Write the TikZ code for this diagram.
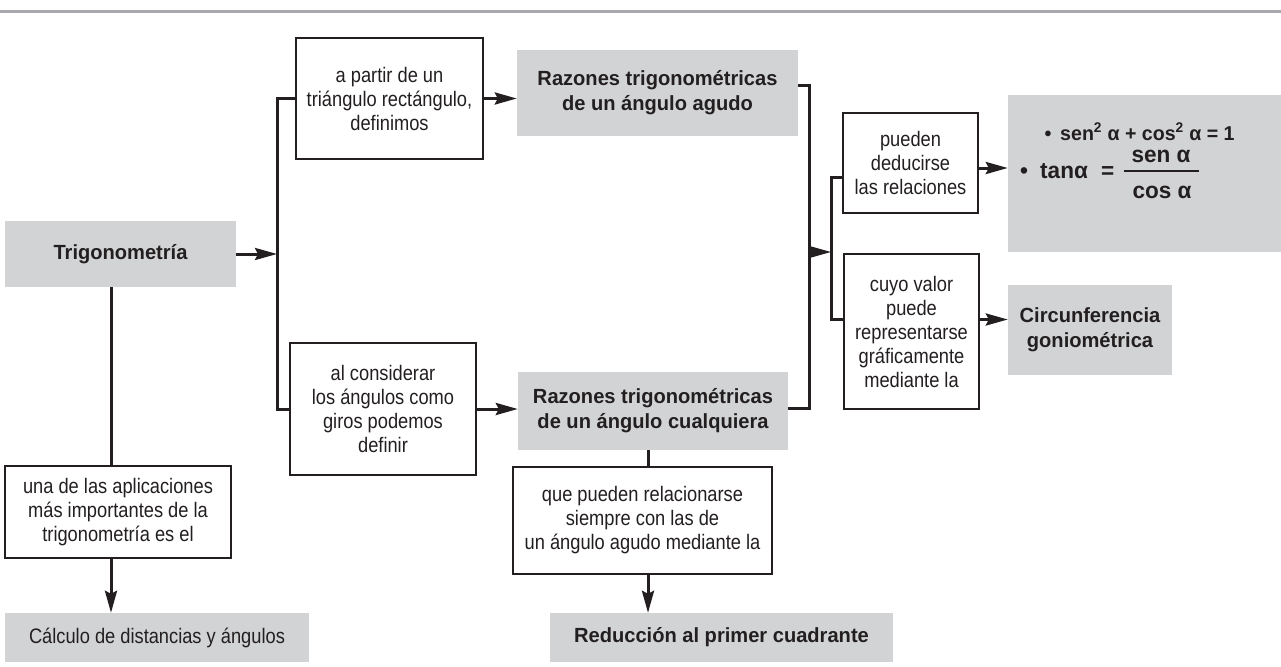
\documentclass[tikz,border=0pt]{standalone}
\usepackage{fontspec}
\usetikzlibrary{arrows.meta,calc}
\newfontfamily\rfont{Liberation Sans}[FakeStretch=0.87]
\newfontfamily\bfont{Liberation Sans}[FakeStretch=0.98]
\definecolor{ink}{HTML}{231F20}
\definecolor{gfill}{HTML}{D1D3D4}
\definecolor{rule}{HTML}{A7A9AC}
\tikzset{
  ln/.style={line width=3pt, draw=ink},
  arr/.style={ln, -{Stealth[length=22pt,width=12pt,inset=3pt]}},
  wbox/.style={draw=ink, line width=1.4pt, fill=white, align=center, text=ink,
    font=\rfont\fontsize{21}{24}\selectfont, inner sep=0pt},
  gbox/.style={fill=gfill, align=center, text=ink,
    font=\bfont\bfseries\fontsize{20.5}{25}\selectfont, inner sep=0pt},
  gboxr/.style={fill=gfill, align=center, text=ink,
    font=\rfont\fontsize{21}{24}\selectfont, inner sep=0pt},
  ftxt/.style={text=ink, inner sep=0pt, font=\bfont\bfseries\fontsize{20}{24}\selectfont},
  ftxtb/.style={text=ink, inner sep=0pt, font=\bfont\bfseries\fontsize{23}{27}\selectfont},
}
\begin{document}
\begin{tikzpicture}[x=1pt,y=-1pt]
\useasboundingbox (0,0) rectangle (1281,666);
% top rule
\draw[rule, line width=3pt] (0,12) -- (1281,12);

% nodes
\node[gbox, minimum width=231pt, minimum height=66pt] (trig) at (120.5,254) {Trigonometría};
\node[wbox, minimum width=187pt, minimum height=121pt] (b1) at (389.5,98.5)
  {a partir de un\\triángulo rectángulo,\\definimos};
\node[wbox, minimum width=186pt, minimum height=132pt] (b2) at (383,409)
  {al considerar\\los ángulos como\\giros podemos\\definir};
\node[gbox, minimum width=281pt, minimum height=86pt] (ra) at (657.5,93)
  {Razones trigonométricas\\de un ángulo agudo};
\node[gbox, minimum width=270pt, minimum height=78pt] (rc) at (653,411)
  {Razones trigonométricas\\de un ángulo cualquiera};
\node[wbox, minimum width=135pt, minimum height=100pt] (p) at (910.5,163)
  {pueden\\deducirse\\las relaciones};
\node[wbox, minimum width=135pt, minimum height=155pt] (c) at (911.5,331.5)
  {cuyo valor\\puede\\representarse\\gráficamente\\mediante la};
\node[fill=gfill, minimum width=273pt, minimum height=157pt, inner sep=0pt] (fm) at (1144.5,173.5) {};
\node[gbox, minimum width=164pt, minimum height=90pt] (circ) at (1090,330)
  {Circunferencia\\goniométrica};
\node[wbox, minimum width=226pt, minimum height=92pt] (b3) at (118,512)
  {una de las aplicaciones\\más importantes de la\\trigonometría es el};
\node[gboxr, minimum width=304pt, minimum height=49pt] (calc) at (157,637.5)
  {Cálculo de distancias y ángulos};
\node[wbox, minimum width=259pt, minimum height=107pt] (b4) at (642.5,520.5)
  {que pueden relacionarse\\siempre con las de\\un ángulo agudo mediante la};
\node[gbox, minimum width=343pt, minimum height=49pt] (red) at (721.5,637.5)
  {Reducción al primer cuadrante};

% formula contents
\node[ftxt, anchor=base] (bul1) at (1048,140) {•};
\node[ftxt, anchor=base west] (f1) at (1060,140) {sen\textsuperscript{2} α + cos\textsuperscript{2} α = 1};
\node[ftxtb, anchor=base] (bul2) at (1024,178) {•};
\node[ftxtb, anchor=base west] (f2) at (1040,178) {tanα};
\node[ftxtb, anchor=base west] (feq) at (1101,178) {=};
\node[ftxtb, anchor=base] (fnum) at (1161,162) {sen α};
\node[ftxtb, anchor=base] (fden) at (1162,198) {cos α};
\draw[ink, line width=1.2pt] (1124,171) coordinate (fbl) -- (1199,171) coordinate (fbr);

% bracket coordinates
\coordinate (bl) at (277,250);
\coordinate (br) at (809,252);
\coordinate (bs) at (831,252);
\coordinate (tx) at (111,0);
\coordinate (rx) at (648,0);

% connectors
\draw[arr] (trig.east) -- (trig.east -| bl);
\draw[ln] (b1.west) -| (bl) |- (b2.west);
\draw[arr] (b1.east) -- (b1.east -| ra.west);
\draw[arr] (b2.east) -- (b2.east -| rc.west);
\draw[ln] ([yshift=7pt]ra.east) -| (br) |- ([yshift=3pt]rc.east);
\draw[arr] (br) -- (bs);
\draw[ln] ([yshift=-14pt]p.west) -| (bs) |- ([yshift=12pt]c.west);
\draw[arr] ([yshift=-5pt]p.east) -- ([yshift=-5pt]p.east -| fm.west);
\draw[arr] ([yshift=12pt]c.east) -- ([yshift=12pt]c.east -| circ.west);
\draw[ln] (trig.south -| tx) -- (b3.north -| tx);
\draw[arr] (b3.south -| tx) -- (calc.north -| tx);
\draw[ln] (rc.south -| rx) -- (b4.north -| rx);
\draw[arr] (b4.south -| rx) -- (red.north -| rx);
\end{tikzpicture}
\end{document}
